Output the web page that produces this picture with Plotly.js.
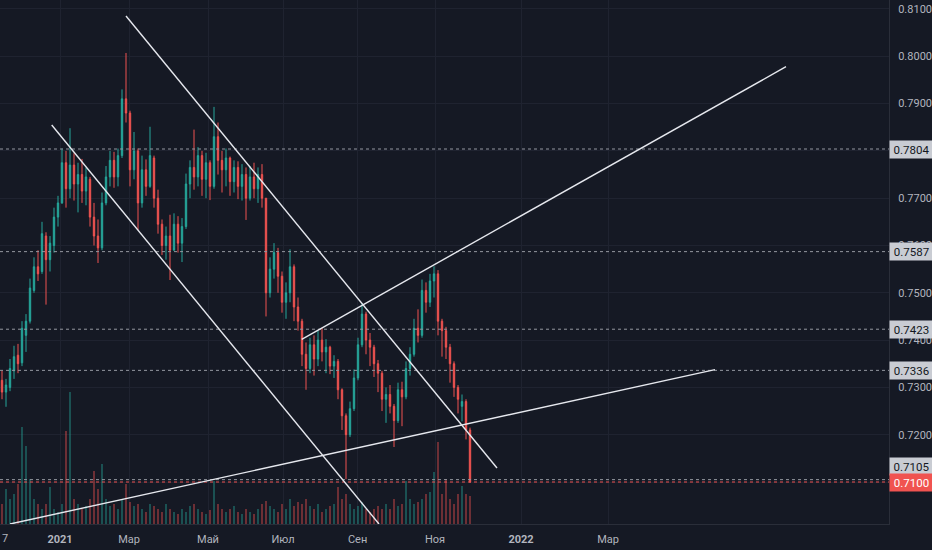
<!DOCTYPE html>
<html><head><meta charset="utf-8">
<script src="https://cdn.plot.ly/plotly-3.0.1.min.js"></script>
<style>html,body{margin:0;padding:0;background:#151924;}#chart{width:932px;height:550px;}</style>
</head><body><div id="chart"></div>
<script>
// AUD/USD style daily-ish candles, Nov 2020 – Nov 2021
const opens = [
0.7315,0.7290,0.7300,0.7335,0.7368,0.7352,0.7410,0.7440,0.7505,0.7555,
0.7545,0.7620,0.7570,0.7600,0.7660,0.7690,0.7775,0.7720,0.7770,0.7730,
0.7750,0.7715,0.7740,0.7660,0.7620,0.7595,0.7690,0.7745,0.7780,0.7745,
0.7790,0.7910,0.7880,0.7760,0.7800,0.7690,0.7760,0.7725,0.7785,0.7700,
0.7645,0.7600,0.7620,0.7590,0.7645,0.7605,0.7640,0.7730,0.7765,0.7745,
0.7790,0.7740,0.7775,0.7725,0.7830,0.7780,0.7760,0.7785,0.7735,0.7765,
0.7725,0.7750,0.7700,0.7745,0.7720,0.7750,0.7700,0.7500,0.7550,0.7585,
0.7535,0.7480,0.7500,0.7555,0.7470,0.7440,0.7370,0.7340,0.7390,0.7360,
0.7400,0.7375,0.7385,0.7345,0.7355,0.7295,0.7240,0.7200,0.7255,0.7320,
0.7390,0.7455,0.7400,0.7385,0.7350,0.7330,0.7275,0.7285,0.7260,0.7230,
0.7295,0.7280,0.7340,0.7370,0.7425,0.7410,0.7505,0.7480,0.7525,0.7540,
0.7440,0.7420,0.7385,0.7350,0.7300,0.7260,0.7270,0.7210];
const highs = [
0.7335,0.7318,0.7360,0.7388,0.7392,0.7440,0.7455,0.7530,0.7575,0.7590,
0.7650,0.7628,0.7620,0.7680,0.7705,0.7805,0.7800,0.7848,0.7795,0.7775,
0.7783,0.7765,0.7745,0.7690,0.7655,0.7712,0.7768,0.7800,0.7798,0.7805,
0.7930,0.8007,0.7885,0.7840,0.7805,0.7790,0.7782,0.7851,0.7790,0.7718,
0.7655,0.7640,0.7665,0.7668,0.7662,0.7658,0.7752,0.7780,0.7845,0.7808,
0.7800,0.7796,0.7780,0.7893,0.7860,0.7800,0.7805,0.7788,0.7780,0.7778,
0.7772,0.7765,0.7768,0.7775,0.7765,0.7772,0.7700,0.7575,0.7605,0.7595,
0.7545,0.7522,0.7592,0.7560,0.7490,0.7445,0.7395,0.7405,0.7410,0.7420,
0.7426,0.7402,0.7388,0.7368,0.7360,0.7298,0.7245,0.7270,0.7338,0.7405,
0.7478,0.7460,0.7415,0.7390,0.7358,0.7335,0.7300,0.7305,0.7265,0.7310,
0.7312,0.7355,0.7385,0.7445,0.7465,0.7528,0.7522,0.7540,0.7556,0.7548,
0.7445,0.7428,0.7392,0.7355,0.7305,0.7285,0.7275,0.7215];
const lows = [
0.7275,0.7259,0.7292,0.7318,0.7330,0.7345,0.7375,0.7435,0.7500,0.7525,
0.7540,0.7475,0.7545,0.7585,0.7640,0.7688,0.7680,0.7700,0.7695,0.7670,
0.7690,0.7685,0.7640,0.7600,0.7563,0.7590,0.7685,0.7725,0.7722,0.7725,
0.7785,0.7860,0.7725,0.7740,0.7633,0.7680,0.7705,0.7722,0.7680,0.7625,
0.7580,0.7570,0.7527,0.7595,0.7585,0.7565,0.7635,0.7700,0.7718,0.7725,
0.7705,0.7700,0.7696,0.7720,0.7750,0.7712,0.7725,0.7705,0.7712,0.7698,
0.7695,0.7654,0.7695,0.7700,0.7690,0.7680,0.7450,0.7490,0.7530,0.7500,
0.7458,0.7445,0.7480,0.7440,0.7420,0.7345,0.7295,0.7330,0.7325,0.7345,
0.7355,0.7330,0.7328,0.7320,0.7275,0.7210,0.7106,0.7195,0.7250,0.7315,
0.7385,0.7370,0.7345,0.7322,0.7290,0.7250,0.7225,0.7245,0.7174,0.7225,
0.7218,0.7275,0.7325,0.7365,0.7395,0.7405,0.7458,0.7470,0.7490,0.7410,
0.7365,0.7360,0.7310,0.7280,0.7245,0.7228,0.7190,0.7098];
const closes = [
0.7290,0.7305,0.7340,0.7365,0.7350,0.7425,0.7440,0.7510,0.7555,0.7540,
0.7625,0.7570,0.7605,0.7660,0.7690,0.7775,0.7720,0.7770,0.7730,0.7750,
0.7715,0.7745,0.7660,0.7620,0.7595,0.7690,0.7745,0.7780,0.7745,0.7790,
0.7910,0.7880,0.7760,0.7800,0.7690,0.7760,0.7725,0.7790,0.7700,0.7645,
0.7600,0.7620,0.7590,0.7645,0.7605,0.7640,0.7730,0.7765,0.7745,0.7790,
0.7740,0.7775,0.7725,0.7830,0.7780,0.7760,0.7785,0.7735,0.7765,0.7725,
0.7750,0.7700,0.7745,0.7720,0.7750,0.7700,0.7500,0.7550,0.7585,0.7535,
0.7480,0.7500,0.7555,0.7470,0.7440,0.7370,0.7340,0.7390,0.7360,0.7400,
0.7375,0.7385,0.7345,0.7355,0.7295,0.7240,0.7200,0.7255,0.7320,0.7390,
0.7455,0.7400,0.7385,0.7350,0.7330,0.7275,0.7285,0.7260,0.7230,0.7295,
0.7280,0.7340,0.7370,0.7425,0.7410,0.7505,0.7480,0.7525,0.7540,0.7440,
0.7420,0.7385,0.7350,0.7300,0.7275,0.7270,0.7210,0.7100];
const volumes = [
20,35,25,30,40,97,78,45,25,20,
15,20,37,15,12,20,93,132,25,20,
15,18,25,53,35,60,25,18,20,15,
25,40,22,18,20,15,12,20,18,15,
12,20,15,12,10,15,12,18,20,15,
12,10,14,43,20,15,12,15,18,12,
10,15,12,10,15,20,23,18,15,12,
20,15,25,18,22,20,25,18,15,20,
12,15,18,20,37,25,30,20,15,18,
22,15,12,15,18,15,20,15,25,18,
20,43,25,20,22,25,30,32,52,82,
30,45,25,20,30,38,30,28];

// time axis labels (bar-index positions)
const tickPos  = [14.5, 31.75, 51.5, 70.25, 88.9, 108.25, 129.75, 151.5];
const tickText = ['<b>2021</b>', 'Мар', 'Май', 'Июл', 'Сен', 'Ноя', '<b>2022</b>', 'Мар'];
// price scale (labels hidden behind the level boxes are left blank)
const priceTicks = [0.71,0.72,0.73,0.74,0.75,0.76,0.77,0.78,0.79,0.80,0.81];
const priceText  = ['', '0.7200', '0.7300', '0.7400', '0.7500', '0.7600', '0.7700', '', '0.7900', '0.8000', '0.8100'];

// horizontal levels drawn on the chart
const levels = [0.7804, 0.7587, 0.7423, 0.7336, 0.7105];
const lastPrice = 0.7100;

// trend lines: start bar, start price, end bar, end price
const trendX0 = [12.43, 31.0, 74.93, 2.0];
const trendP0 = [0.78548, 0.80852, 0.74017, 0.70112];
const trendX1 = [94.25, 123.75, 196.0, 178.25];
const trendP1 = [0.70112, 0.71296, 0.79780, 0.73376];

const UP = '#26a69a', DN = '#ef5350';
const bars = closes.map((_, i) => i);
const volColors = closes.map((c, i) => c >= opens[i] ? 'rgba(38,166,154,0.45)' : 'rgba(239,83,80,0.45)');

const traces = [
  {type:'bar', x:bars, y:volumes, yaxis:'y2', width:0.45,
   marker:{color:volColors, line:{width:0}}, hoverinfo:'skip'},
  {type:'candlestick', x:bars, open:opens, high:highs, low:lows, close:closes,
   increasing:{line:{color:UP, width:1}, fillcolor:UP},
   decreasing:{line:{color:DN, width:1}, fillcolor:DN},
   whiskerwidth:0, hoverinfo:'skip'}
];

const shapes = [];
levels.forEach(v => shapes.push({type:'line', xref:'paper', x0:0, x1:1, yref:'y', y0:v, y1:v,
  line:{color:'#9598a1', width:1, dash:'dot'}}));
shapes.push({type:'line', xref:'paper', x0:0, x1:1, yref:'y', y0:lastPrice, y1:lastPrice,
  line:{color:DN, width:1, dash:'dot'}});
trendX0.forEach((x0, i) => shapes.push({type:'line', xref:'x', yref:'y',
  x0:x0, y0:trendP0[i], x1:trendX1[i], y1:trendP1[i],
  line:{color:'#e6e8ee', width:1.4}}));

const annotations = [];
levels.forEach(v => annotations.push({xref:'paper', x:1, xanchor:'left', yref:'y', y:v,
  yshift: v === 0.7105 ? 13 : 0,
  text:v.toFixed(4), showarrow:false, bgcolor:'#c9ccd3', width:39, height:13, borderpad:2,
  font:{family:'Roboto', size:11.5, color:'#131722'}}));
annotations.push({xref:'paper', x:1, xanchor:'left', yref:'y', y:lastPrice,
  text:lastPrice.toFixed(4), showarrow:false, bgcolor:'#f05350', width:39, height:13, borderpad:2,
  font:{family:'Roboto', size:11.5, color:'#ffffff'}});
annotations.push({xref:'paper', x:0, xanchor:'left', yref:'paper', y:0, yanchor:'top', yshift:-6,
  text:'7', showarrow:false, font:{family:'Roboto', size:11, color:'#b2b5be'}});

const layout = {
  width:932, height:550,
  margin:{l:0, r:43, t:0, b:26},
  paper_bgcolor:'#151924', plot_bgcolor:'#151924',
  showlegend:false, boxgap:0.5,
  xaxis:{range:[-0.5, 221.75], tickmode:'array', tickvals:tickPos, ticktext:tickText,
    showgrid:true, gridcolor:'#1f2330', gridwidth:1, zeroline:false,
    showline:true, linecolor:'#2a2e39', ticks:'outside', ticklen:5, tickcolor:'rgba(0,0,0,0)',
    tickfont:{family:'Roboto', size:11, color:'#b2b5be'}, rangeslider:{visible:false}, fixedrange:true},
  yaxis:{side:'right', range:[0.70112, 0.81190], tickmode:'array', tickvals:priceTicks, ticktext:priceText,
    showgrid:true, gridcolor:'#1f2330', gridwidth:1, zeroline:false,
    showline:true, linecolor:'#2a2e39', ticks:'outside', ticklen:6, tickcolor:'rgba(0,0,0,0)',
    tickfont:{family:'Roboto', size:11, color:'#b2b5be'}, fixedrange:true},
  yaxis2:{overlaying:'y', range:[0, 524], visible:false, fixedrange:true},
  shapes:shapes, annotations:annotations
};

Plotly.newPlot('chart', traces, layout, {displayModeBar:false, staticPlot:true});
</script>
</body></html>
